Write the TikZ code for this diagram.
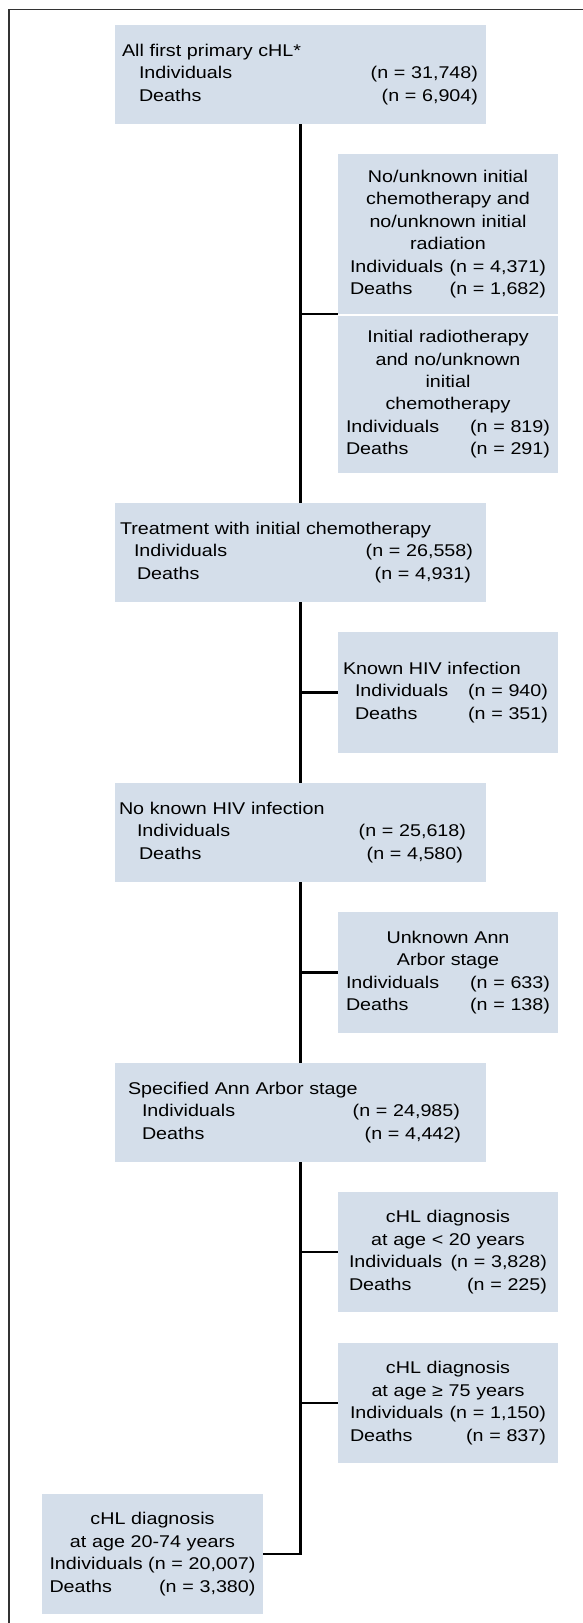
\documentclass[tikz,border=0pt]{standalone}
\usepackage{fontspec}
\setmainfont{Liberation Sans}[FakeStretch=1.16]
\definecolor{boxfill}{RGB}{212,222,234}
\newcommand{\nrow}[4]{\makebox[\linewidth][s]{\hspace*{#1pt}#2\hfill#3\hspace*{#4pt}}}
\begin{document}
\begin{tikzpicture}[
    x=1pt, y=-1pt,
    font=\fontsize{17}{22.4}\selectfont,
    box/.style={fill=boxfill, inner xsep=4pt, inner ysep=0pt},
    mainbox/.style={box, minimum width=371, minimum height=99, text width=363, align=left},
    sidebox/.style={box, minimum width=220, minimum height=#1, text width=196, align=center},
    link/.style={line width=2.4pt},
    frame/.style={line width=1.3pt, draw=black!80}
]
    \useasboundingbox (0,0) rectangle (583,1623);
    \draw[frame] (9,1623) -- (9,9.3) -- (583,9.3);

    % Main stream
    \node[mainbox] (first) at (300.5,74.5) {\hspace*{3pt}All first primary cHL*\\
        \nrow{20}{Individuals}{(n = 31,748)}{4}\\
        \nrow{20}{Deaths}{(n = 6,904)}{4}};
    \node[mainbox] (chemo) at (300.5,552.5) {\hspace*{1pt}Treatment with initial chemotherapy\\
        \nrow{15}{Individuals}{(n = 26,558)}{9}\\
        \nrow{18}{Deaths}{(n = 4,931)}{11}};
    \node[mainbox] (nohiv) at (300.5,832.5) {No known HIV infection\\
        \nrow{18}{Individuals}{(n = 25,618)}{16}\\
        \nrow{20}{Deaths}{(n = 4,580)}{19}};
    \node[mainbox] (stage) at (300.5,1112.5) {\hspace*{9pt}Specified Ann Arbor stage\\
        \nrow{23}{Individuals}{(n = 24,985)}{22}\\
        \nrow{23}{Deaths}{(n = 4,442)}{21}};
    \node[sidebox=120, minimum width=221, text width=206] (mid) at (152.5,1554) {cHL diagnosis\\
        at age 20-74 years\\
        \nrow{0}{Individuals}{(n = 20,007)}{0}\\
        \nrow{0}{Deaths}{(n = 3,380)}{0}};

    % Exclusions
    \node[sidebox=160] (nochemo) at (448,234) {No/unknown initial\\
        chemotherapy and\\
        no/unknown initial\\
        radiation\\
        \nrow{0}{Individuals}{(n = 4,371)}{0}\\
        \nrow{0}{Deaths}{(n = 1,682)}{0}};
    \node[sidebox=157.5, text width=204] (radio) at (448,394.25) {Initial radiotherapy\\
        and no/unknown\\
        initial\\
        chemotherapy\\
        \nrow{0}{Individuals}{(n = 819)}{0}\\
        \nrow{0}{Deaths}{(n = 291)}{0}};
    \node[sidebox=121, text width=212, align=left] (hiv) at (448,692.5) {\hspace*{1pt}Known HIV infection\\
        \nrow{13}{Individuals}{(n = 940)}{6}\\
        \nrow{13}{Deaths}{(n = 351)}{6}};
    \node[sidebox=121, text width=204] (unkstage) at (448,972.5) {Unknown Ann\\
        Arbor stage\\
        \nrow{0}{Individuals}{(n = 633)}{0}\\
        \nrow{0}{Deaths}{(n = 138)}{0}};
    \node[sidebox=120, text width=198] (young) at (448,1252) {cHL diagnosis\\
        at age < 20 years\\
        \nrow{0}{Individuals}{(n = 3,828)}{0}\\
        \nrow{0}{Deaths}{(n = 225)}{0}};
    \node[sidebox=120] (old) at (448,1403) {cHL diagnosis\\
        at age ≥ 75 years\\
        \nrow{0}{Individuals}{(n = 1,150)}{0}\\
        \nrow{0}{Deaths}{(n = 837)}{0}};

    % Trunk
    \draw[link] (first) -- (chemo);
    \draw[link] (chemo) -- (nohiv);
    \draw[link] (nohiv) -- (stage);
    \draw[link] (stage) |- (mid);

    % Branches
    \draw[link] (first |- nochemo.south west) -- (nochemo.south west);
    \draw[link] (chemo |- hiv) -- (hiv);
    \draw[link] (nohiv |- unkstage) -- (unkstage);
    \draw[link] (stage |- young) -- (young);
    \draw[link] (stage |- old) -- (old);
\end{tikzpicture}
\end{document}
